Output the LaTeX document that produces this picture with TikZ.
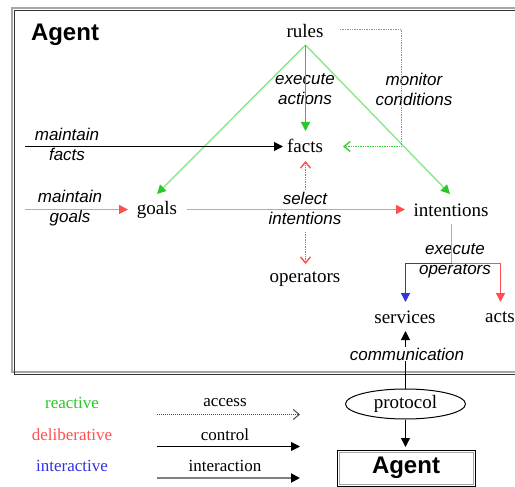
\documentclass[tikz,border=0pt]{standalone}
\usepackage{fontspec}
\setmainfont{Liberation Serif}
\setsansfont{Liberation Sans}
\usetikzlibrary{arrows.meta,shapes.geometric}
\definecolor{grnD}{RGB}{40,200,40}
\definecolor{grnL}{RGB}{140,230,140}
\definecolor{grnM}{RGB}{60,205,60}
\definecolor{pinkL}{RGB}{255,140,140}
\definecolor{redD}{RGB}{255,80,80}
\definecolor{bluD}{RGB}{50,50,230}
\tikzset{
  term/.style={font=\fontsize{19}{21}\selectfont, inner sep=2pt},
  lab/.style={font=\sffamily\itshape\fontsize{17}{20}\selectfont, align=center, inner sep=0pt},
  leg/.style={font=\fontsize{17}{20}\selectfont, inner sep=0pt},
  filled/.style={-{Triangle[length=9pt,width=9pt]}},
  openhead/.style={-{Straight Barb[length=6pt,width=10pt]}},
  colline/.style={line width=1.4pt},
}
\begin{document}
\begin{tikzpicture}[x=1pt,y=-1pt,line width=1pt]
\useasboundingbox (0,0) rectangle (515,487);
% frame
\draw[gray!70, line width=2pt] (12,8) rectangle (530,372);
\draw[black!80, line width=1pt] (14.5,10.5) rectangle (532,374.5);
\node[font=\sffamily\bfseries\fontsize{24}{26}\selectfont, inner sep=0pt] (title) at (65,35) {Agent};

% terms
\node[term] (rules) at (305,31) {rules};
\node[term] (facts) at (305,146) {facts};
\node[term] (goals) at (157,210) {goals};
\node[term] (intentions) at (451,210) {intentions};
\node[term] (operators) at (305,279) {operators};
\node[term] (services) at (405,317) {services};
\node[term] (acts) at (500,317) {acts};

% labels
\node[lab] (lexec) at (305,89) {execute\\actions};
\node[lab] (lmon) at (414,89) {monitor\\conditions};
\node[lab] (lmf) at (67,144) {maintain\\facts};
\node[lab] (lmg) at (70,208) {maintain\\goals};
\node[lab] (lsel) at (305,208) {select\\intentions};
\node[lab] (lexo) at (455,261) {execute\\operators};

% coordinates
\coordinate (apex) at (305.5,45);
\coordinate (mf) at (25,146.5);
\coordinate (mg) at (25,209.5);
\coordinate (mon1) at (340,29.5);
\coordinate (mon2) at (401.5,29.5);
\coordinate (mon3) at (401.5,146.5);
\coordinate (fork) at (451.5,263.5);
\coordinate (selU) at (305.5,190);
\coordinate (selD) at (305.5,232);

% reactive
\draw[grnL, colline, -{Triangle[length=9pt,width=9pt,color=grnD]}] (apex) -- (157,194);
\draw[grnL, colline, -{Triangle[length=9pt,width=9pt,color=grnD]}] (apex) -- (450,194);
\draw[grnD, colline, -{Triangle[length=9pt,width=9pt]}] (apex) -- (305.5,131);
\draw[grnM, colline, densely dotted, openhead] (mon1) -- (mon2) -- (mon3) -- (343,146.5);

% maintain facts
\draw[black, filled] (mf) -- (283,146.5);
% deliberative
\draw[pinkL, colline, -{Triangle[length=9pt,width=9pt,color=redD]}] (mg) -- (128,209.5);
\draw[pinkL, colline, -{Triangle[length=9pt,width=9pt,color=redD]}] (187,209.5) -- (405,209.5);
\draw[redD, colline, densely dotted, openhead] (selU) -- (305.5,161);
\draw[redD, colline, densely dotted, openhead] (selD) -- (305.5,264);
\draw[pinkL, colline] (451.5,224) -- (fork);
\draw[bluD, colline, -{Triangle[length=9pt,width=9pt]}] (fork) -| (405.5,302);
\draw[redD, colline, -{Triangle[length=9pt,width=9pt,color=redD]}] (fork) -| (500.5,302);

% protocol
\node[draw, ellipse, minimum width=120pt, minimum height=30pt, term, inner sep=0pt] (protocol) at (405.5,404) {protocol};
\draw[black, -{Triangle[length=9pt,width=9pt]}] (protocol.north) -- (405.5,331);
\node[lab, fill=white, inner sep=1pt] (lcom) at (407,354) {communication};
\draw[black, -{Triangle[length=9pt,width=9pt]}] (protocol.south) -- (405.5,447);

% bottom agent
\draw[black, line width=1pt] (337.5,450.5) rectangle (475.5,486);
\draw[gray!70, line width=1pt] (339.5,452.5) rectangle (473.5,484.5);
\node[font=\sffamily\bfseries\fontsize{24}{26}\selectfont, inner sep=0pt] (agent2) at (406,468) {Agent};

% legend
\node[leg, text=grnD] (reactive) at (72,403) {reactive};
\node[leg, text=redD] (deliberative) at (72,435) {deliberative};
\node[leg, text=bluD] (interactive) at (72,466) {interactive};
\node[leg] (access) at (225,403) {access};
\node[leg] (control) at (225,435) {control};
\node[leg] (interaction) at (225,466) {interaction};
\coordinate (a1) at (157,414.5);
\coordinate (a2) at (300,414.5);
\coordinate (c1) at (157,446.5);
\coordinate (c2) at (300,446.5);
\coordinate (i1) at (157,478);
\coordinate (i2) at (300,478);
\draw[black!70, densely dotted, openhead] (a1) -- (a2);
\draw[black, filled] (c1) -- (c2);
\draw[gray, line width=2pt, -{Triangle[length=9pt,width=9pt,color=black]}] (i1) -- (i2);
\end{tikzpicture}
\end{document}
